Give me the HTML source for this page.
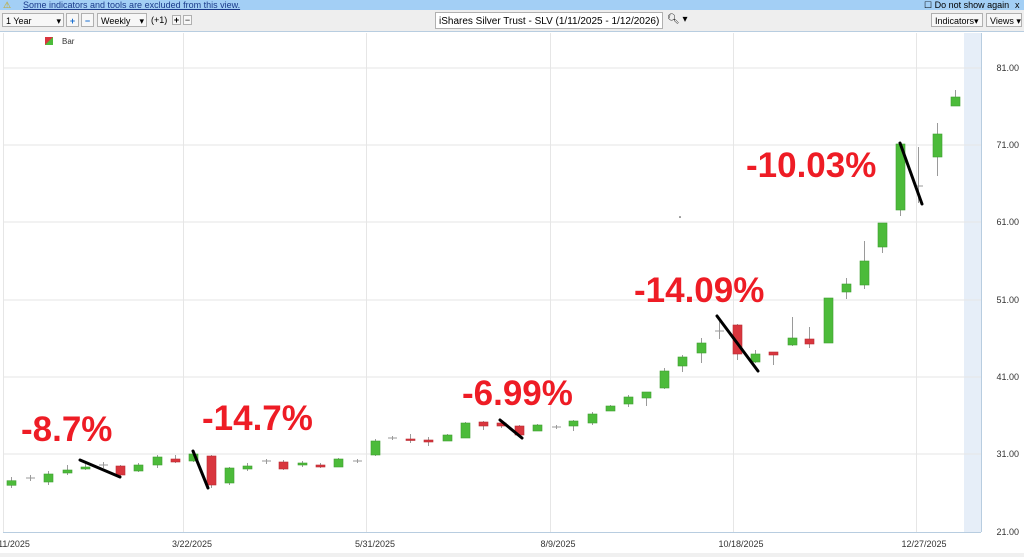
<!DOCTYPE html>
<html><head><meta charset="utf-8"><style>
body{margin:0;width:1024px;height:557px;overflow:hidden;background:#fff;font-family:"Liberation Sans",sans-serif;position:relative}
.ban{position:absolute;left:0;top:0;width:1024px;height:10px;background:#a3cff5;font-size:9px;line-height:10px;color:#1a3a8a}
.tb{position:absolute;left:0;top:10px;width:1024px;height:21px;background:#eeeeee;border-bottom:1px solid #b8cde0;font-size:9px}
.bx{position:absolute;top:3px;height:14px;border:1px solid #b0b0b0;background:#f7f7f7;line-height:14px;padding-left:3px;box-sizing:border-box}
</style></head><body>
<div class="ban"><span style="position:absolute;left:3px;color:#c8a000">⚠</span><span style="position:absolute;left:23px;text-decoration:underline">Some indicators and tools are excluded from this view.</span><span style="position:absolute;left:924px;color:#000">☐ Do not show again</span><span style="position:absolute;left:1015px;color:#000">x</span></div>
<div class="tb">
<div class="bx" style="left:2px;width:62px">1 Year<span style="position:absolute;right:2px">▾</span></div>
<div class="bx" style="left:66px;width:13px;color:#1a6fd0;font-weight:bold;padding:0;text-align:center">+</div>
<div class="bx" style="left:81px;width:13px;color:#1a6fd0;font-weight:bold;padding:0;text-align:center">−</div>
<div class="bx" style="left:97px;width:50px">Weekly<span style="position:absolute;right:2px">▾</span></div>
<span style="position:absolute;left:151px;top:5px">(+1)</span>
<div class="bx" style="left:172px;top:5px;width:9px;height:10px;padding:0;line-height:9px;text-align:center;font-weight:bold">+</div>
<div class="bx" style="left:183px;top:5px;width:9px;height:10px;padding:0;line-height:9px;text-align:center">−</div>
<div class="bx" style="left:435px;width:228px;height:17px;top:2px;background:#fff;line-height:17px;font-size:10px">iShares Silver Trust - SLV (1/11/2025 - 1/12/2026)</div>
<span style="position:absolute;left:667px;top:4px;font-size:10px">🔍︎ ▾</span>
<div class="bx" style="left:931px;width:52px">Indicators▾</div>
<div class="bx" style="left:986px;width:36px">Views ▾</div>
</div>
<svg width="1024" height="557" style="position:absolute;left:0;top:0" font-family="Liberation Sans, sans-serif">
<rect x="45" y="37" width="8" height="8" fill="#d9363e"/><polygon points="45,45 53,37 53,45" fill="#4cbb3a"/>
<text x="62" y="44" font-size="8" fill="#333">Bar</text>
<rect x="964" y="33" width="17" height="499" fill="#e6eef8"/>
<g stroke="#e6e6e6" stroke-width="1">
<line x1="3" y1="68" x2="981" y2="68"/><line x1="3" y1="145" x2="981" y2="145"/><line x1="3" y1="222" x2="981" y2="222"/><line x1="3" y1="300" x2="981" y2="300"/><line x1="3" y1="377" x2="981" y2="377"/><line x1="3" y1="454" x2="981" y2="454"/>
<line x1="3.5" y1="33" x2="3.5" y2="532"/><line x1="183.5" y1="33" x2="183.5" y2="532"/><line x1="366.5" y1="33" x2="366.5" y2="532"/><line x1="550.5" y1="33" x2="550.5" y2="532"/><line x1="733.5" y1="33" x2="733.5" y2="532"/><line x1="916.5" y1="33" x2="916.5" y2="532"/>
</g>
<line x1="3" y1="532.5" x2="981" y2="532.5" stroke="#b8cde0"/>
<line x1="981.5" y1="33" x2="981.5" y2="532" stroke="#b8cde0"/>
<g font-size="9" fill="#333" text-anchor="end">
<text x="1019" y="71">81.00</text><text x="1019" y="148">71.00</text><text x="1019" y="225">61.00</text><text x="1019" y="303">51.00</text><text x="1019" y="380">41.00</text><text x="1019" y="457">31.00</text><text x="1019" y="535">21.00</text>
</g>
<g font-size="9" fill="#333" text-anchor="middle">
<text x="14" y="547">11/2025</text><text x="192" y="547">3/22/2025</text><text x="375" y="547">5/31/2025</text><text x="558" y="547">8/9/2025</text><text x="741" y="547">10/18/2025</text><text x="924" y="547">12/27/2025</text>
</g>
<rect x="0" y="553" width="1024" height="4" fill="#f0f0f0"/>
<circle cx="680" cy="217" r="0.8" fill="#333"/>
<g id="c" stroke-width="1"></g>
<g font-size="35" font-weight="bold" fill="#ee1c25">
<text x="21" y="441">-8.7%</text><text x="202" y="430">-14.7%</text><text x="462" y="405">-6.99%</text><text x="634" y="302">-14.09%</text><text x="746" y="177">-10.03%</text>
</g>
<g stroke="#000" stroke-width="3" stroke-linecap="round">
<line x1="80" y1="460" x2="120" y2="477"/><line x1="193" y1="451" x2="208" y2="488"/><line x1="500" y1="420" x2="522" y2="438"/><line x1="717" y1="316" x2="758" y2="371"/><line x1="900" y1="143" x2="922" y2="204"/>
</g>
</svg>
<script>
var d=[[11,'G',480.7,485.3,477,488],[30,'D',478,478,475,481],[48,'G',474,482,471,485],[67,'G',470,473,465,475],[85,'G',467,469,464,470],[103,'D',465,465,462,468],[120,'R',466,475,465,476],[138,'G',465,471,463,472],[157,'G',457,465,455,468],[175,'R',459,462,455,463],[193,'G',454,461,452,462],[211,'R',456,485,455,488],[229,'G',468,483,467,485],[247,'G',466,469,463,471],[266,'D',461,461,459,464],[283,'R',462,469,460,470],[302,'G',463,465,461,467],[320,'R',465,467,463,468],[338,'G',459,467,458,467],[357,'D',461,461,459,463],[375,'G',441,455,439,456],[392,'D',438,438,436,440],[410,'R',439,440.5,434,443],[428,'R',440,442,437,446],[447,'G',435,441,434,441],[465,'G',423,438,422,438],[483,'R',422,426,421,430],[501,'R',423,426,421,428],[519,'R',426,435,425,437],[537,'G',425,431,424,431],[556,'D',427,427,425,429],[573,'G',421,426,420,431],[592,'G',414,423,412,425],[610,'G',406,411,405,411],[628,'G',397,404,395,407],[646,'G',392,398,392,406],[664,'G',371,388,368,389],[682,'G',357,366,355,372],[701,'G',343,353,338,363],[719,'D',331,331,320,339],[737,'R',325,354,324,360],[755,'G',354,362,350,363],[773,'R',352,355,352,365],[792,'G',338,345,317,346],[809,'R',339,344,327,348],[828,'G',298,343,298,343],[846,'G',284,292,278,299],[864,'G',261,285,241,289],[882,'G',223,247,223,253],[900,'G',144,210,144,216],[918,'D',186,186,147,203],[937,'G',134,157,123,176],[955,'G',97,106,90,106]];
var s='';d.forEach(function(c){var x=c[0];s+='<line x1="'+(x+.5)+'" y1="'+c[4]+'" x2="'+(x+.5)+'" y2="'+c[5]+'" stroke="#9a9a9a"/>';
if(c[1]=='D'){s+='<line x1="'+(x-4)+'" y1="'+c[2]+'" x2="'+(x+5)+'" y2="'+c[2]+'" stroke="#9a9a9a"/>';}
else{var f=c[1]=='G'?'#4cbb3a':'#d9363e';var st=c[1]=='G'?'#3f9d31':'#b82c33';s+='<rect x="'+(x-4)+'" y="'+c[2]+'" width="9" height="'+Math.max(1.5,c[3]-c[2])+'" fill="'+f+'" stroke="'+st+'" stroke-width="0.6"/>';}});
document.getElementById('c').innerHTML=s;
</script>
</body></html>
